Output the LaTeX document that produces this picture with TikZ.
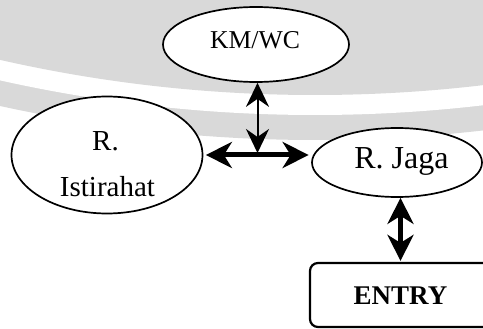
\documentclass[tikz,border=0pt]{standalone}
\usepackage{fontspec}
\setmainfont{Liberation Serif}
\usetikzlibrary{arrows.meta,shapes.geometric}
\definecolor{bggray}{RGB}{217,217,217}
\begin{document}
\begin{tikzpicture}[x=1pt,y=-1pt,
  room/.style={draw, ellipse, line width=1.7pt, fill=white, inner sep=0pt},
  gate/.style={draw, rectangle, rounded corners=8pt, line width=2.2pt, inner sep=0pt},
  lbl/.style={inner sep=0pt, anchor=base, font=\fontsize{#1}{#1}\selectfont},
  thinlink/.style={line width=2pt,
    {Stealth[length=24pt,width=23pt,inset=8pt]}-{Stealth[length=24pt,width=23pt,inset=8pt]}},
  thicklink/.style={line width=5pt,
    {Stealth[length=26pt,width=26pt,inset=8pt]}-{Stealth[length=26pt,width=26pt,inset=8pt]}}]
\useasboundingbox (0,0) rectangle (483,329);

% grey arc bands behind the plan
\begin{scope}
  \clip (0,0) rectangle (483,329);
  \fill[bggray] (315,-1322) circle (1462);
  \fill[white]  (315,-1322) circle (1437);
  \fill[bggray] (315,-1322) circle (1417);
\end{scope}

% rooms
\node[room, minimum width=186pt, minimum height=75pt]  (kmwc)  at (256,44.5) {};
\node[room, minimum width=191pt, minimum height=117pt] (ist)   at (107,155) {};
\node[room, minimum width=170pt, minimum height=69pt]  (jaga)  at (397,162.5) {};
\node[gate, minimum width=181pt, minimum height=64pt]  (entry) at (400.5,295) {};

% labels
\node[lbl=25.7] (kmwc-t) at (255,48.3) {KM/WC};
\node[lbl=29]   (ist-t1) at (105.5,150) {R.};
\node[lbl=29]   (ist-t2) at (107.5,196.7) {Istirahat};
\node[lbl=32]   (jaga-t) at (401.5,168.3) {R. Jaga};
\node[lbl=27]   (entry-t) at (400.5,305) {\bfseries ENTRY};

% circulation
\coordinate (hub) at (257.5,155);
\draw[thinlink, shorten >=2pt] (kmwc.south -| hub) -- (hub);
\draw[thicklink, shorten <=2.5pt, shorten >=2.5pt] (ist.east |- hub) -- (jaga.west |- hub);
\draw[thicklink, shorten >=1pt] (entry.north |- jaga.south) -- (entry.north);
\end{tikzpicture}
\end{document}
